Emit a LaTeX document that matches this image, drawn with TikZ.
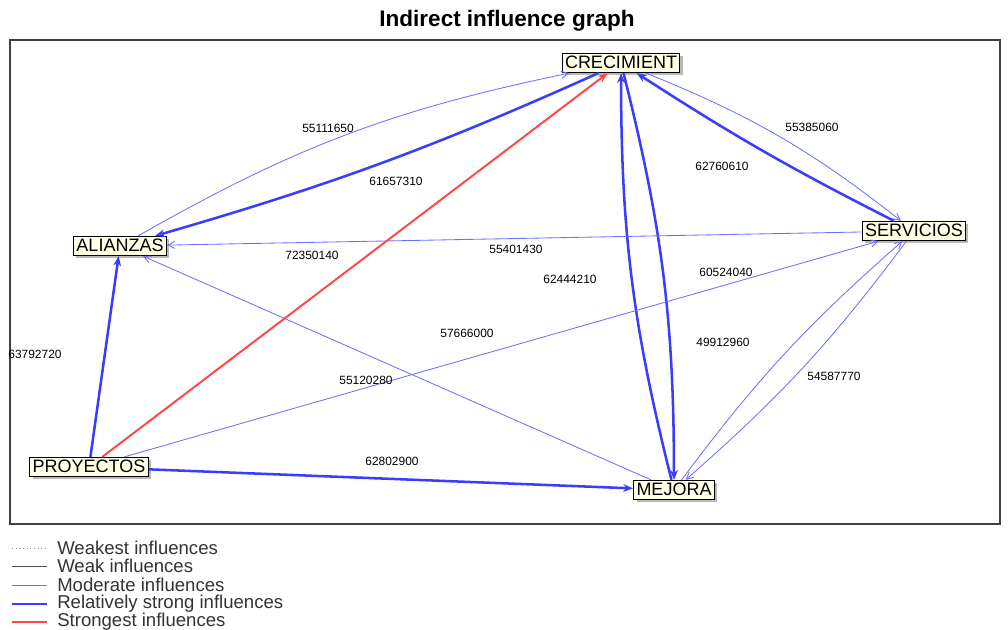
\documentclass[tikz,border=0pt]{standalone}
\usepackage{fontspec}
\setmainfont{Liberation Sans}
\usetikzlibrary{arrows.meta,shadows}
\definecolor{boxfill}{HTML}{FFFFE6}
\definecolor{modblue}{HTML}{6E6EFF}
\definecolor{strongblue}{HTML}{3C3CFF}
\definecolor{redline}{HTML}{FF4848}
\newcommand{\peso}[3]{\node[peso] (#1) at (#2) {#3};}

\begin{document}
\begin{tikzpicture}[x=0.025cm,y=-0.025cm,
  var/.style={draw=black,line width=0.9pt,fill=boxfill,inner sep=2pt,
    text height=9pt,text depth=0.5pt,font=\fontsize{12.8}{13}\selectfont,
    drop shadow={shadow xshift=2pt,shadow yshift=-2pt,fill=black!55}},
  peso/.style={inner sep=0pt,font=\fontsize{8.5}{9}\selectfont},
  moderate/.style={modblue,line width=0.6pt,-{Straight Barb[length=5pt,width=5pt]}},
  strong/.style={strongblue,line width=1.8pt,-{Stealth[length=7pt,width=5.5pt]}},
  strongest/.style={redline,line width=1.4pt,-{Stealth[length=7pt,width=5.5pt]}}]
  \useasboundingbox (0,0) rectangle (1008,630);

  \node[font=\fontsize{16}{16}\selectfont\bfseries] (titulo) at (507,21) {Indirect influence graph};
  \draw[black!75,line width=1pt] (10,40) rectangle (1000,524);

  \node[var] (cre) at (621,63)  {CRECIMIENT};
  \node[var] (ali) at (120,246) {ALIANZAS};
  \node[var] (ser) at (914,231) {SERVICIOS};
  \node[var] (pro) at (89,467)  {PROYECTOS};
  \node[var] (mej) at (674,490) {MEJORA};

  \draw[moderate] (ali) to[bend left=9] (cre);
  \draw[strong] (cre) to[bend left=4] (ali);
  \draw[strong] (ser) to[bend left=3] (cre);
  \draw[moderate] (cre) to[bend left=8] (ser);
  \draw[strong] (mej) to[bend left=7] (cre);
  \draw[strong] (cre) to[bend left=7] (mej);
  \draw[moderate] (ser) -- (ali);
  \draw[moderate] (mej) -- (ali);
  \draw[moderate] (pro) -- (ser);
  \draw[moderate] (mej) to[bend left=6] (ser);
  \draw[moderate] (ser) to[bend left=6] (mej);
  \draw[strong] (pro) -- (ali);
  \draw[strong] (pro) -- (mej);
  \draw[strongest] (pro) -- (cre);

  \peso{p1}{328,128}{55111650}
  \peso{p2}{396,181}{61657310}
  \peso{p3}{812,127}{55385060}
  \peso{p4}{722,166}{62760610}
  \peso{p5}{312,255}{72350140}
  \peso{p6}{516,249}{55401430}
  \peso{p7}{570,279}{62444210}
  \peso{p8}{726,272}{60524040}
  \peso{p9}{467,333}{57666000}
  \peso{p10}{723,342}{49912960}
  \peso{p11}{35,354}{63792720}
  \peso{p12}{366,380}{55120280}
  \peso{p13}{834,376}{54587770}
  \peso{p14}{392,461}{62802900}

  % leyenda
  \foreach \y/\n in {548/1,566/2,585/3,604/4,622/5} {
    \coordinate (la\n) at (12,\y);
    \coordinate (lb\n) at (47,\y);
  }
  \draw[black!40,dotted,line width=0.6pt] (la1) -- (lb1);
  \draw[black!70,line width=0.6pt] (la2) -- (lb2);
  \draw[modblue,line width=0.6pt] (la3) -- (lb3);
  \draw[strongblue,line width=1.8pt] (la4) -- (lb4);
  \draw[redline,line width=1.8pt] (la5) -- (lb5);
  \begin{scope}[every node/.style={anchor=west,inner sep=0pt,font=\fontsize{13.2}{13}\selectfont,text=black!80}]
    \node (t1) at (57,548) {Weakest influences};
    \node (t2) at (57,566) {Weak influences};
    \node (t3) at (57,585) {Moderate influences};
    \node (t4) at (57,604) {Relatively strong influences};
    \node (t5) at (57,622) {Strongest influences};
  \end{scope}
\end{tikzpicture}
\end{document}
